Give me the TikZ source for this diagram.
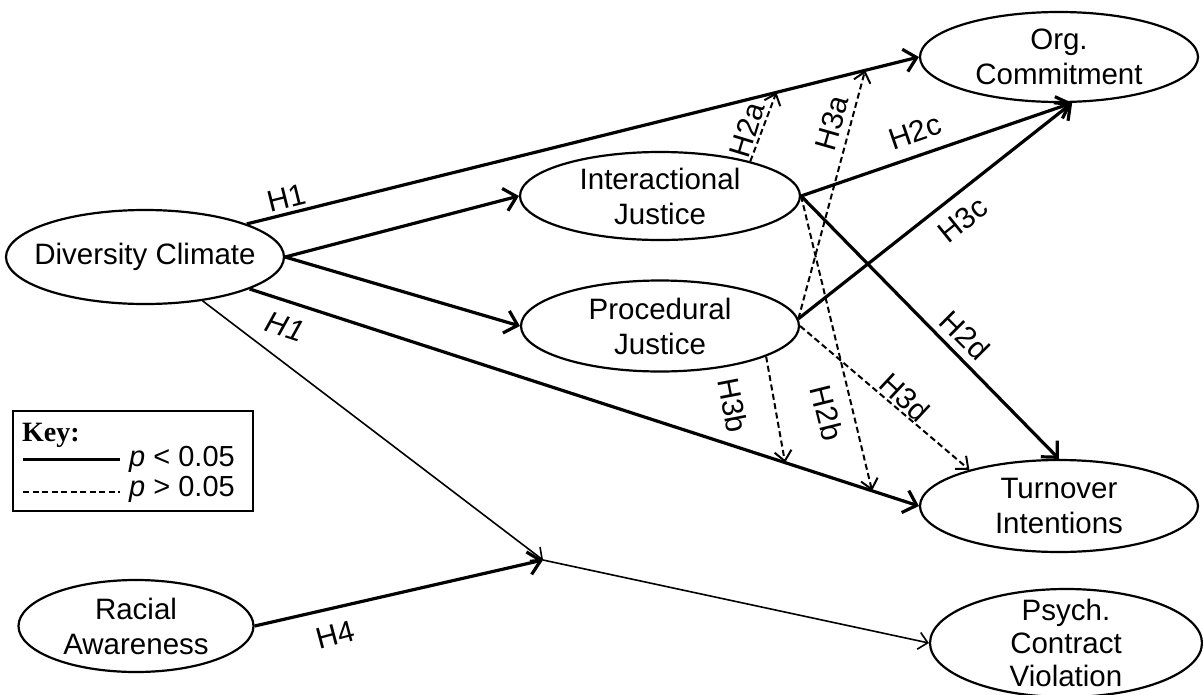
\documentclass[tikz,border=0pt]{standalone}
\usepackage{fontspec}
\setmainfont{Liberation Sans}
\newfontfamily\keyfont{Liberation Serif}
\usetikzlibrary{arrows.meta,shapes.geometric}
\begin{document}
\begin{tikzpicture}[x=1pt,y=-1pt,
  every node/.style={font=\fontsize{29.5}{35}\selectfont},
  latent/.style={ellipse, draw, line width=2.2pt, inner xsep=-90pt, inner ysep=-40pt, align=center},
  sig/.style={line width=3.2pt, -{Straight Barb[length=12pt,width=23pt]}},
  weak/.style={line width=1.6pt, -{Straight Barb[length=9pt,width=17pt]}},
  ns/.style={line width=2pt, dash pattern=on 6pt off 3.5pt, -{Straight Barb[length=10pt,width=17pt,line width=2pt]}},
  lbl/.style={inner sep=0pt, font=\fontsize{30}{35}\selectfont},
]
\useasboundingbox (0,0) rectangle (1203,694);

% latent constructs
\node[latent, minimum width=278pt, minimum height=94pt] (DC) at (145,257) {Diversity Climate};
\node[latent, minimum width=280pt, minimum height=88pt] (IJ) at (660,196) {Interactional\\Justice};
\node[latent, minimum width=278pt, minimum height=91pt] (PJ) at (660,326) {Procedural\\Justice};
\node[latent, minimum width=278pt, minimum height=90pt] (OC) at (1059,57) {Org.\\Commitment};
\node[latent, minimum width=278pt, minimum height=92pt] (TI) at (1059,506) {Turnover\\Intentions};
\node[latent, minimum width=272pt, minimum height=108pt, font=\fontsize{29.5}{33}\selectfont] (PV) at (1066,643) {Psych.\\Contract\\Violation};
\node[latent, minimum width=235pt, minimum height=92pt] (RA) at (136,626) {Racial\\Awareness};
\coordinate (J) at (543,560);

% significant paths
\draw[sig] (DC.18) -- (OC.west) coordinate[pos=0.788] (h2aEnd) coordinate[pos=0.92] (h3aEnd);
\draw[sig] (DC.east) -- (IJ.west);
\draw[sig] (DC.east) -- (PJ.west);
\draw[sig] (DC.-17) -- (TI.west) coordinate[pos=0.80] (h3bEnd) coordinate[pos=0.93] (h2bEnd);
\draw[sig] (RA.east) -- (J);
\draw[sig] (IJ.east) -- (OC.-74);
\draw[sig] (PJ.3) -- (OC.-74);
\draw[sig] (IJ.east) -- (TI.north);

% moderation paths
\draw[weak] (DC) -- (J);
\draw[weak] (J) -- (PV.west);

% non-significant paths
\draw[ns] (IJ.21) -- (h2aEnd);
\draw[ns] (PJ.3) -- (h3aEnd);
\draw[ns] (IJ.east) -- (h2bEnd);
\draw[ns] (PJ.-16) -- (h3bEnd);
\draw[ns] (PJ.east) -- (TI.158);

% labels
\node[lbl, rotate=14] (L1) at (287,198) {H1};
\node[lbl, rotate=-18] (L2) at (285,327) {\itshape H1};
\node[lbl, rotate=15] (L3) at (335,635) {H4};
\node[lbl, rotate=73] (L4) at (747,130) {H2a};
\node[lbl, rotate=74] (L5) at (832,123) {H3a};
\node[lbl, rotate=19] (L6) at (915,132) {H2c};
\node[lbl, rotate=39] (L7) at (963,220) {H3c};
\node[lbl, rotate=-45] (L8) at (965,335) {H2d};
\node[lbl, rotate=-43] (L9) at (905,397) {H3d};
\node[lbl, rotate=-76] (L10) at (827,413) {H2b};
\node[lbl, rotate=-79] (L11) at (733,405) {H3b};

% key
\node[draw, line width=1.8pt, minimum width=240pt, minimum height=100pt, inner sep=0pt, anchor=north west] (key) at (12,410) {};
\node[anchor=base west, inner sep=0pt, font=\keyfont\bfseries\fontsize{28}{30}\selectfont] (keyT) at (22,441) {Key:};
\node[anchor=base west, inner sep=0pt, font=\fontsize{29}{30}\selectfont] (keyS) at (129,466) {\textit{p} < 0.05};
\node[anchor=base west, inner sep=0pt, font=\fontsize{29}{30}\selectfont] (keyN) at (129,496) {\textit{p} > 0.05};
\coordinate (ks1) at (23,459);
\coordinate (ks2) at (120,459);
\coordinate (kn1) at (23,492);
\coordinate (kn2) at (120,492);
\draw[line width=3pt] (ks1) -- (ks2);
\draw[line width=1.6pt, dash pattern=on 6pt off 3.5pt] (kn1) -- (kn2);
\end{tikzpicture}
\end{document}
